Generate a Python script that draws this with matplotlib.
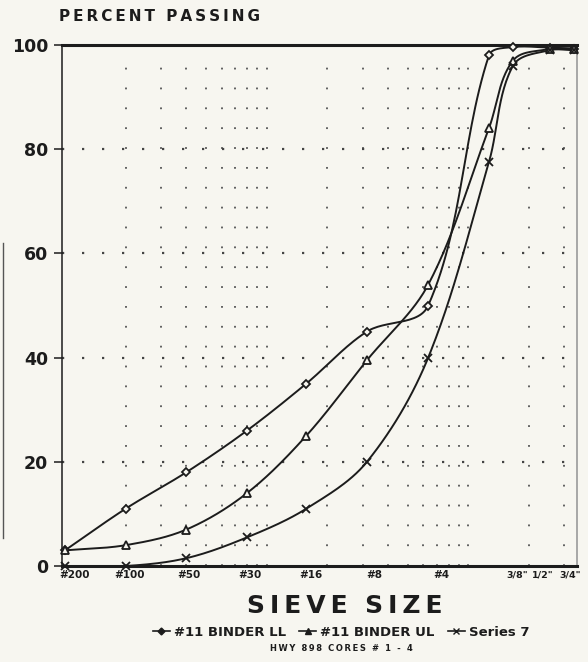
import numpy as np
import matplotlib
matplotlib.use('Agg')
import matplotlib.pyplot as plt
from matplotlib.lines import Line2D

# sieve openings (mm) and percent passing for each gradation
sieve_mm = [0.075, 0.15, 0.3, 0.6, 1.18, 2.36, 4.75, 9.5, 12.5, 19.0, 25.0]
binder_ll = [3, 11, 18, 26, 35, 45, 50, 98, 99.6, 99.5, 99.3]
binder_ul = [3, 4, 7, 14, 25, 39.5, 54, 84, 97, 99.2, 99.3]
series7 = [0, 0, 1.5, 5.5, 11, 20, 40, 77.5, 96, 99, 99]

# sieve names along the bottom (typed labels, not exactly under the sieves)
sieve_labels = ['#200', '#100', '#50', '#30', '#16', '#8', '#4', '3/8"', '1/2"', '3/4"']
label_mm = [0.084, 0.157, 0.31, 0.62, 1.25, 2.57, 5.5, 13.1, 17.6, 24.0]

BG = '#f7f6f0'
INK = '#1c1c1c'
TS = '\u2009'


def spaced(s):
    return TS.join(s)


def smooth(xs, ys, n=30):
    # bezier "smoothed line" through the points, worked out in log-x space,
    # handle lengths scaled to each segment so uneven spacing doesn't loop
    px = np.log10(xs) * 202.0
    py = np.asarray(ys, dtype=float) * 5.21
    pts = np.column_stack([px, py])
    m = len(pts)
    tang = []
    for i in range(m):
        d = pts[min(i + 1, m - 1)] - pts[max(i - 1, 0)]
        tang.append(d / np.hypot(*d))
    out = [pts[0]]
    t = np.linspace(0, 1, n)[1:, None]
    for i in range(m - 1):
        p1, p2 = pts[i], pts[i + 1]
        L = np.hypot(*(p2 - p1)) / 3
        c1 = p1 + tang[i] * L
        c2 = p2 - tang[i + 1] * L
        seg = (1 - t)**3 * p1 + 3 * (1 - t)**2 * t * c1 + 3 * (1 - t) * t**2 * c2 + t**3 * p2
        out.extend(seg)
    out = np.array(out)
    return 10**(out[:, 0] / 202.0), out[:, 1] / 5.21


fig = plt.figure(figsize=(5.88, 6.62), dpi=100, facecolor=BG)
ax = fig.add_axes([0.1054, 0.145, 0.876, 0.787], facecolor=BG)
ax.set_xscale('log')
ax.set_xlim(0.0725, 26)
ax.set_ylim(0, 100)

# dotted grid: verticals at multiples of the #200 opening, horizontals every 20%
grid_x = [0.075 * m * 10**k for k in range(3) for m in range(2, 11)]
grid_x = [g for g in grid_x if g < 26]
for g in grid_x:
    ax.axvline(g, ymax=0.965, color='#555555', lw=1.3, linestyle=(0, (1, 10)), zorder=1)
for g in [20, 40, 60, 80]:
    ax.axhline(g, color='#444444', lw=1.6, linestyle=(0, (1, 8)), zorder=1)

series = [
    (binder_ll, 'D', 4.5, '#11 BINDER LL'),
    (binder_ul, '^', 5.5, '#11 BINDER UL'),
    (series7, 'x', 6, 'Series 7'),
]
handles = []
for vals, mk, ms, name in series:
    sx, sy = smooth(sieve_mm, vals)
    ax.plot(sx, sy, color=INK, lw=1.4, zorder=3)
    ax.plot(sieve_mm, vals, linestyle='none', marker=mk, ms=ms, mew=1.3,
            mfc=BG, mec=INK, zorder=4, clip_on=False)
    handles.append(Line2D([], [], color=INK, lw=1.2, marker=mk, ms=ms - 1,
                          mfc=INK, mec=INK, label=name))

# frame: heavy top and bottom, light right side
ax.spines['top'].set_linewidth(2.2)
ax.spines['bottom'].set_linewidth(2.2)
ax.spines['left'].set_linewidth(1.1)
ax.spines['right'].set_linewidth(1.2)
ax.spines['right'].set_color('#9a9a9a')
for s in ['top', 'bottom', 'left']:
    ax.spines[s].set_color(INK)

ax.set_yticks([0, 20, 40, 60, 80, 100])
ax.set_yticklabels(['0', '20', '40', '60', '80', '100'])
ax.tick_params(axis='y', length=6, width=1.1, color=INK, pad=4,
               labelsize=12.5, labelcolor=INK)
for lab in ax.get_yticklabels():
    lab.set_fontweight('bold')

ax.xaxis.set_minor_locator(matplotlib.ticker.NullLocator())
ax.set_xticks(label_mm)
ax.set_xticklabels(sieve_labels, fontsize=7.5, fontweight='bold', color=INK)
ax.tick_params(axis='x', length=0, pad=3)
for lab in ax.get_xticklabels()[-3:]:
    lab.set_fontsize(6.8)

fig.text(0.10, 0.975, spaced('PERCENT') + TS * 2 + ' ' + spaced('PASSING'),
         fontsize=11, fontweight='bold', color=INK, va='center', ha='left')
fig.text(0.587, 0.085, spaced('SIEVE') + '  ' + spaced('SIZE'), fontsize=18,
         fontweight='bold', color=INK, ha='center', va='center')
fig.legend(handles=handles, loc='center', bbox_to_anchor=(0.58, 0.045), ncol=3,
           frameon=False, handlelength=1.3, handletextpad=0.3,
           columnspacing=1.0, labelcolor=INK, prop={'weight': 'bold', 'size': 9.5})
fig.text(0.58, 0.021, spaced('HWY 898 CORES # 1 - 4'), fontsize=6,
         fontweight='bold', color=INK, ha='center', va='center')

# border line of the neighbouring page at the far left edge
fig.add_artist(Line2D([0.005, 0.005], [0.187, 0.633], transform=fig.transFigure,
                      color='#555555', lw=1.0))

fig.savefig('out.png', dpi=100, facecolor=BG)
